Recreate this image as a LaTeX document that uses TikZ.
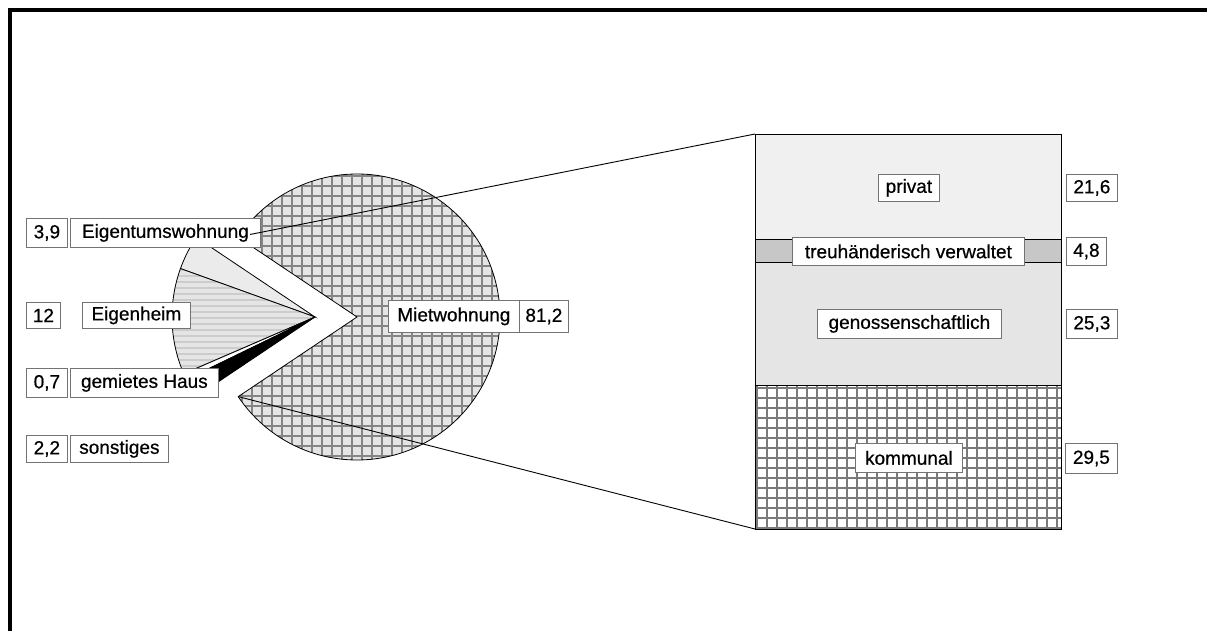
\documentclass[tikz,border=0pt]{standalone}
\usepackage{fontspec}
\setmainfont[FakeBold=0.6]{Liberation Sans}
\begin{document}
\begin{tikzpicture}[x=1pt,y=-1pt,
  lbl/.style={draw=black!55, fill=white, line width=0.8pt, inner sep=0pt, anchor=north west, font=\fontsize{19}{22}\selectfont},
  slice/.style={draw=black, line width=0.8pt},
  gridln/.style={line width=2.6pt, color=black!48},
  komln/.style={line width=2.4pt, color=black!52},
  stripe/.style={line width=1.6pt, color=black!20},
  conn/.style={draw=black, line width=0.9pt}]
\useasboundingbox (0,0) rectangle (1207,631);
\fill[white] (0,0) rectangle (1207,631);
\draw[line width=3.2pt, line join=miter] (10,631) -- (10,10) -- (1207,10);

% ---- big slice (Mietwohnung)
\coordinate (B) at (357,317);
\begin{scope}
\clip (B) -- ++(-146.16:143) arc[start angle=-146.16, end angle=146.16, radius=143] -- cycle;
\fill[black!10] (200,160) rectangle (520,480);
\foreach \x in {212,222,...,502} \draw[gridln] (\x,170) -- (\x,465);
\foreach \y in {176,186,...,466} \draw[gridln] (210,\y) -- (505,\y);
\end{scope}
\draw[slice] (B) -- ++(-146.16:143) arc[start angle=-146.16, end angle=146.16, radius=143] -- cycle;
\path (B) -- ++(146.16:143) coordinate (pL);
\coordinate (pU) at (250,234.5);

% ---- small slices
\coordinate (S) at (315,317);
\fill[black!8] (S) -- ++(-146.16:143) arc[start angle=-146.16, end angle=-160.2, radius=143] -- cycle;
\draw[slice] (S) -- ++(-146.16:143) arc[start angle=-146.16, end angle=-160.2, radius=143] -- cycle;
\begin{scope}
\clip (S) -- ++(-160.2:143) arc[start angle=-160.2, end angle=-203.4, radius=143] -- cycle;
\fill[black!10] (160,240) rectangle (320,400);
\foreach \y in {252,258,...,400} \draw[stripe] (160,\y) -- (320,\y);
\end{scope}
\draw[slice] (S) -- ++(-160.2:143) arc[start angle=-160.2, end angle=-203.4, radius=143] -- cycle;
\draw[slice, fill=white] (S) -- ++(-203.4:143) arc[start angle=-203.4, end angle=-205.92, radius=143] -- cycle;
\draw[slice, fill=black] (S) -- ++(-205.92:143) arc[start angle=-205.92, end angle=-213.84, radius=143] -- cycle;

% ---- bar
\coordinate (barNW) at (755,134);
\coordinate (barSW) at (755,529);
\fill[black!6] (755,134) rectangle (1061,239);
\fill[black!22] (755,239) rectangle (1061,262.4);
\fill[black!10] (755,262.4) rectangle (1061,385.5);
\begin{scope}
\clip (755,385.5) rectangle (1061,529);
\fill[white] (755,385.5) rectangle (1061,529);
\foreach \x in {757,767,...,1061} \draw[komln] (\x,385) -- (\x,530);
\foreach \y in {388,398,...,528} \draw[komln] (754,\y) -- (1062,\y);
\end{scope}
\draw[line width=0.8pt] (755,134) rectangle (1061,239);
\draw[line width=0.8pt] (755,239) rectangle (1061,262.4);
\draw[line width=0.8pt] (755,262.4) rectangle (1061,385.5);
\draw[line width=0.8pt] (755,385.5) rectangle (1061,529);

% ---- labels
\node[lbl, minimum width=41, minimum height=29] (v39) at (26,218) {3,9};
\node[lbl, minimum width=190, minimum height=29] (tEW) at (70,218) {Eigentumswohnung};
\node[lbl, minimum width=34, minimum height=26] (v12) at (26,302) {12};
\node[lbl, minimum width=108, minimum height=26] (tEH) at (82,302) {Eigenheim};
\node[lbl, minimum width=41, minimum height=29] (v07) at (26,368) {0,7};
\node[lbl, minimum width=148, minimum height=29] (tGH) at (70,368) {gemietes Haus};
\node[lbl, minimum width=41, minimum height=27] (v22) at (26,435) {2,2};
\node[lbl, minimum width=98, minimum height=27] (tSO) at (70,435) {sonstiges};
\node[lbl, minimum width=131, minimum height=32] (tMW) at (388,300) {Mietwohnung};
\node[lbl, minimum width=49, minimum height=32] (v812) at (519,300) {81,2};
\node[lbl, minimum width=61, minimum height=27] (tPR) at (878,174) {privat};
\node[lbl, minimum width=51, minimum height=27] (v216) at (1066,174) {21,6};
\node[lbl, minimum width=232, minimum height=28] (tTV) at (792,237) {treuhänderisch verwaltet};
\node[lbl, minimum width=40, minimum height=28] (v48) at (1066,237) {4,8};
\node[lbl, minimum width=184, minimum height=29] (tGE) at (817,309) {genossenschaftlich};
\node[lbl, minimum width=51, minimum height=29] (v253) at (1066,309) {25,3};
\node[lbl, minimum width=107, minimum height=29] (tKO) at (855,443) {kommunal};
\node[lbl, minimum width=52, minimum height=30] (v295) at (1065,443) {29,5};

% ---- connectors
\draw[conn] (pU) -- (barNW);
\draw[conn] (pL) -- (barSW);
\end{tikzpicture}
\end{document}
